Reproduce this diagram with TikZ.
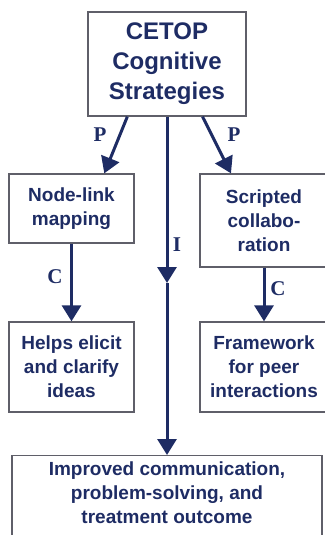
\documentclass[tikz,border=0pt]{standalone}
\usepackage{fontspec}
\setmainfont{Liberation Serif}
\newfontfamily\boxfont{Liberation Sans}
\usetikzlibrary{arrows.meta}
\definecolor{ink}{RGB}{30,44,100}
\definecolor{edge}{RGB}{95,95,105}
\begin{document}
\begin{tikzpicture}[x=1pt,y=-1pt,
  box/.style={draw=edge,line width=1.3pt,text=ink,align=center,inner sep=0pt,
    font=\boxfont\bfseries\fontsize{19}{24}\selectfont},
  lab/.style={text=ink,font=\bfseries\fontsize{21}{24}\selectfont},
  arr/.style={draw=ink,line width=3pt,-{Triangle[width=19pt,length=16pt]}}]
\useasboundingbox (0,0) rectangle (324,535);
% boxes
\node[box,minimum width=158,minimum height=104,
  font=\boxfont\bfseries\fontsize{24}{30}\selectfont] (cetop) at (167,64) {CETOP\\Cognitive\\Strategies};
\node[box,minimum width=125,minimum height=69] (map) at (71.5,208.5) {Node-link\\mapping};
\node[box,minimum width=128,minimum height=93] (script) at (264,220.5) {Scripted\\collabo-\\ration};
\node[box,minimum width=125,minimum height=90] (helps) at (71.5,367) {Helps elicit\\and clarify\\ideas};
\node[box,minimum width=128,minimum height=90] (frame) at (264,367) {Framework\\for peer\\interactions};
\node[box,minimum width=310,anchor=north,inner ysep=6pt] (out) at (167,455)
  {Improved communication,\\problem-solving, and\\treatment outcome\rule[-30pt]{0pt}{0pt}};
% arrows
\coordinate (mid) at (167,283);
\draw[arr] (cetop.233) -- (map.47);
\draw[arr] (cetop.304) -- (script.125);
\draw[arr] (cetop.south) -- (mid);
\draw[arr] (mid) -- (out.north);
\draw[arr] (map.south) -- (helps.north);
\draw[arr] (script.south) -- (frame.north);
% labels
\node[lab] (pl) at (100,135) {P};
\node[lab] (pr) at (234,135) {P};
\node[lab] (il) at (177,245) {I};
\node[lab] (cl) at (55,277) {C};
\node[lab] (cr) at (278,289) {C};
\end{tikzpicture}
\end{document}
